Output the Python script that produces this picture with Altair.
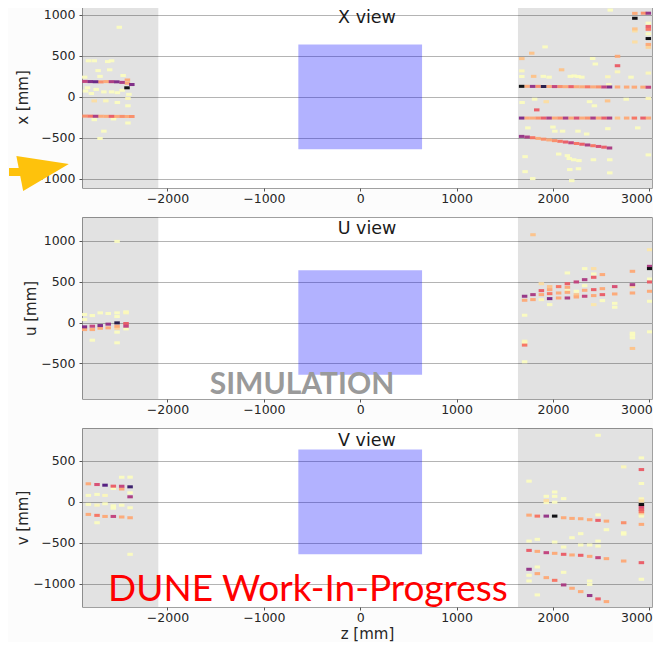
import altair as alt
import pandas as pd

Z_DOMAIN = [-2887, 3028]
Z_TICKS = [-2000, -1000, 0, 1000, 2000, 3000]
GRAY_Z0 = [-2887, 1637]
GRAY_Z1 = [-2095, 3028]
BOX_Z = [-642, 642]
BOX_C = [-640, 640]
HIT_W = 57
HIT_H = 37
ARROW = "#fec20c"

# ---------------- X view hits (z, x, charge) ----------------
X_LEFT_TRACKS = [
    (-2856, 188, 0.55), (-2801, 186, 0.7), (-2746, 184, 0.75), (-2691, 182, 0.35), (-2636, 186, 0.3),
    (-2581, 185, 0.6), (-2526, 183, 0.7), (-2471, 176, 0.6), (-2416, 165, 0.3), (-2370, 150, 0.7),
    (-2416, 205, 0.3), (-2420, 110, 1.0),
    (-2856, -236, 0.35), (-2801, -237, 0.4), (-2746, -238, 0.6), (-2691, -238, 0.3), (-2636, -239, 0.3),
    (-2581, -239, 0.45), (-2526, -240, 0.3), (-2471, -240, 0.35), (-2416, -241, 0.3), (-2370, -241, 0.35),
]
X_LEFT_OTHER = [
    (-2820, 440, 0.1), (-2760, 440, 0.1), (-2620, 430, 0.08), (-2580, 440, 0.1), (-2720, 320, 0.1),
    (-2600, 330, 0.08), (-2500, 850, 0.08), (-2860, 240, 0.1), (-2700, 250, 0.1), (-2460, 260, 0.08),
    (-2850, 70, 0.1), (-2790, 40, 0.1), (-2740, 90, 0.12), (-2660, 60, 0.1), (-2580, 60, 0.1),
    (-2520, 50, 0.1), (-2470, 80, 0.1), (-2400, 30, 0.1), (-2830, 110, 0.08),
    (-2760, -50, 0.2), (-2640, -50, 0.15), (-2520, -70, 0.08), (-2410, -20, 0.15), (-2410, -110, 0.1),
    (-2760, -280, 0.1), (-2560, -270, 0.08), (-2660, -420, 0.1), (-2700, -510, 0.08), (-2410, -320, 0.08),
]
X_RIGHT_TRACKS = [
    (1675, 128, 1.0), (1732, 128, 0.3), (1789, 127, 0.65), (1846, 127, 0.35), (1903, 126, 0.9),
    (1960, 126, 0.3), (2017, 125, 0.55), (2074, 125, 0.35), (2131, 124, 0.3), (2188, 124, 0.45),
    (2245, 123, 0.3), (2302, 122, 0.3), (2359, 122, 0.4), (2416, 121, 0.3), (2473, 121, 0.35),
    (2530, 120, 0.55), (2587, 120, 0.7), (2670, 120, 0.3), (2765, 119, 0.3), (2845, 118, 0.3),
    (2935, 118, 0.3), (2990, 117, 0.55),
    (1675, -260, 0.7), (1732, -260, 0.3), (1789, -260, 0.3), (1846, -260, 0.35), (1903, -260, 0.45),
    (1960, -260, 0.6), (2017, -260, 0.3), (2074, -260, 0.35), (2131, -260, 0.6), (2188, -260, 0.3),
    (2245, -260, 0.5), (2302, -260, 0.3), (2359, -260, 0.35), (2416, -260, 0.6), (2473, -260, 0.3),
    (2530, -260, 0.45), (2587, -260, 0.6), (2670, -260, 0.25), (2765, -260, 0.3), (2845, -260, 0.4),
    (2935, -260, 0.45), (2990, -260, 0.3),
    (1675, -484, 0.65), (1732, -492, 0.6), (1789, -500, 0.4), (1846, -509, 0.3), (1903, -518, 0.35),
    (1960, -527, 0.3), (2017, -536, 0.35), (2074, -544, 0.4), (2131, -553, 0.45), (2188, -562, 0.55),
    (2245, -571, 0.4), (2302, -580, 0.45), (2359, -589, 0.6), (2416, -598, 0.4), (2473, -607, 0.5),
    (2530, -616, 0.45), (2587, -626, 0.6),
]
X_RIGHT_OTHER = [
    (2850, 1020, 0.3), (2850, 960, 1.0), (2850, 830, 0.25), (2850, 805, 0.2), (2850, 670, 0.2),
    (2940, 1022, 0.35), (2990, 1022, 0.65), (2990, 900, 0.12), (2990, 860, 0.45), (2990, 825, 0.4),
    (2990, 712, 1.0), (2990, 640, 0.3), (2990, 605, 0.22), (2990, 770, 0.12),
    (2670, 495, 0.3), (2670, 380, 0.45), (2670, 305, 0.15),
    (1677, 467, 0.25), (1677, 317, 0.15), (1677, 248, 0.12), (1780, 533, 0.25), (1918, 610, 0.1),
    (2090, 330, 0.25), (1800, 250, 0.25), (1900, 250, 0.1), (1960, 240, 0.1), (2180, 250, 0.08),
    (2220, 255, 0.12), (2260, 248, 0.1), (2300, 240, 0.08), (2412, 467, 0.1), (2440, 400, 0.1),
    (2570, 245, 0.15), (2580, 150, 0.1), (2810, 240, 0.1), (2990, 290, 0.15),
    (2567, -50, 0.25), (1680, -70, 0.1), (1810, -30, 0.1), (1832, -160, 0.45), (1930, -60, 0.2),
    (2380, -60, 0.1), (2430, -110, 0.1), (2760, -30, 0.1), (2990, -20, 0.15),
    (1740, -380, 0.1), (2000, -370, 0.1), (2020, -420, 0.12), (2100, -420, 0.1), (2260, -420, 0.1),
    (2350, -455, 0.1), (2880, -380, 0.1), (2570, -390, 0.12),
    (1711, -732, 0.1), (2060, -700, 0.1), (2150, -720, 0.12), (2170, -755, 0.08), (2215, -770, 0.1),
    (2270, -780, 0.08), (2420, -770, 0.1), (2590, -770, 0.1), (2175, -890, 0.1), (2265, -880, 0.1),
    (2590, -930, 0.1), (1711, -915, 0.1), (1790, -1000, 0.1), (2195, -1025, 0.08), (2990, -710, 0.1),
    (2595, 1060, 0.08),
]

# ---------------- U view hits (z, u, charge) ----------------
U_LEFT = [
    (-2862, -53, 0.7), (-2862, -86, 0.3), (-2862, 36, 0.1), (-2862, 98, 0.1),
    (-2780, -45, 0.55), (-2780, -86, 0.3), (-2780, 85, 0.12), (-2780, -216, 0.12),
    (-2698, -37, 0.7), (-2698, -70, 0.3), (-2698, 118, 0.12),
    (-2615, -20, 0.65), (-2615, -65, 0.3), (-2615, 110, 0.12),
    (-2523, -4, 0.9), (-2523, -45, 0.3), (-2523, -70, 0.22), (-2523, 73, 0.1), (-2523, 118, 0.1),
    (-2523, -118, 0.12), (-2523, -248, 0.12), (-2523, 992, 0.06),
    (-2430, -12, 0.45), (-2430, -45, 0.55), (-2430, 118, 0.15), (-2430, 130, 0.1), (-2430, -78, 0.12),
]
U_RIGHT = [
    (1706, 321, 0.65), (1706, 272, 0.3), (1706, 89, 0.12), (1706, -228, 0.15), (1706, -250, 0.12),
    (1706, -276, 0.4), (1706, -480, 0.1),
    (1793, 1073, 0.25), (1793, 341, 0.6), (1793, 280, 0.3),
    (1880, 475, 0.2), (1880, 390, 0.45), (1880, 341, 0.3), (1880, 280, 0.15),
    (1966, 439, 0.25), (1966, 402, 0.3), (1966, 353, 0.4), (1966, 292, 0.7), (1966, 219, 0.12),
    (2059, 439, 0.4), (2059, 361, 0.3), (2059, 300, 0.3),
    (2150, 606, 0.12), (2150, 475, 0.45), (2150, 431, 0.3), (2150, 390, 0.15), (2150, 369, 0.3),
    (2150, 300, 0.6),
    (2243, 496, 0.55), (2243, 382, 0.12), (2243, 340, 0.25), (2243, 312, 0.3),
    (2329, 659, 0.12), (2329, 524, 0.6), (2329, 451, 0.12), (2329, 394, 0.3), (2329, 321, 0.55),
    (2423, 659, 0.2), (2423, 594, 0.12), (2423, 553, 0.45), (2423, 402, 0.45), (2423, 329, 0.3),
    (2423, 219, 0.18),
    (2513, 586, 0.3), (2513, 414, 0.3), (2513, 341, 0.45), (2513, 268, 0.12),
    (2641, 439, 0.5), (2641, 349, 0.3), (2641, 235, 0.12), (2641, 187, 0.1),
    (2825, 626, 0.3), (2825, 463, 0.6), (2825, 440, 0.2), (2825, 361, 0.3), (2825, -130, 0.1),
    (2825, -155, 0.12), (2825, -187, 0.1), (2825, -317, 0.25),
    (3004, 890, 0.18), (3004, 687, 0.6), (3004, 659, 1.0), (3004, 532, 0.12), (3004, 496, 0.45),
    (3004, 382, 0.3), (3004, 260, 0.12), (3004, -114, 0.12),
]

# ---------------- V view hits (z, v, charge) ----------------
V_LEFT = [
    (-2821, 220, 0.3), (-2821, 78, 0.1), (-2821, -32, 0.12), (-2821, -154, 0.3),
    (-2731, 211, 0.5), (-2731, 90, 0.12), (-2731, -41, 0.15), (-2731, -166, 0.4), (-2731, -256, 0.1),
    (-2648, 203, 0.8), (-2648, 78, 0.15), (-2648, -24, 0.1), (-2648, -179, 0.3),
    (-2562, 191, 0.45), (-2562, 163, 0.12), (-2562, -49, 0.1), (-2562, -78, 0.12), (-2562, -179, 0.55),
    (-2475, 301, 0.1), (-2475, 191, 0.55), (-2475, 158, 0.3), (-2475, -41, 0.12), (-2475, -187, 0.3),
    (-2388, 301, 0.12), (-2388, 183, 0.85), (-2388, 110, 0.12), (-2388, 61, 0.6), (-2388, -73, 0.1),
    (-2388, -195, 0.3), (-2388, -642, 0.08),
]
V_RIGHT_TRACKS = [
    (1752, -163, 0.3), (1838, -175, 0.4), (1931, -175, 0.65), (2018, -175, 1.0), (2111, -195, 0.3),
    (2198, -203, 0.3), (2288, -207, 0.3), (2381, -219, 0.3), (2468, -227, 0.45), (2555, -236, 0.3),
    (2734, -256, 0.35),
    (1752, -594, 0.45), (1838, -606, 0.3), (1931, -622, 0.55), (2018, -630, 0.3), (2111, -642, 0.45),
    (2198, -650, 0.3), (2288, -654, 0.45), (2381, -667, 0.3), (2468, -683, 0.55), (2555, -695, 0.3),
    (2734, -724, 0.3), (2918, -744, 0.45),
    (1752, -825, 0.65), (1838, -878, 0.3), (1931, -927, 0.3), (2018, -960, 0.4), (2111, -1016, 0.6),
    (2198, -1057, 0.3), (2288, -1098, 0.3), (2381, -1146, 0.65), (2468, -1187, 0.45), (2555, -1220, 0.3),
]
V_RIGHT_OTHER = [
    (1752, 252, 0.1), (1752, -480, 0.1), (1752, -898, 0.1), (1752, -968, 0.1),
    (1838, -459, 0.1), (1838, -797, 0.12), (1838, -1138, 0.1),
    (1931, 67, 0.1), (1931, 15, 0.2), (1931, -10, 0.1),
    (2018, 120, 0.12), (2018, 67, 0.12), (2018, -5, 0.1), (2018, -492, 0.1),
    (2111, 39, 0.1), (2111, -553, 0.1), (2111, -862, 0.1),
    (2198, -439, 0.1), (2288, -390, 0.1), (2288, -528, 0.1),
    (2381, -528, 0.1), (2381, -968, 0.1), (2381, -1010, 0.08),
    (2468, 813, 0.1), (2468, -480, 0.1), (2468, -541, 0.12), (2468, -160, 0.1),
    (2555, -341, 0.1), (2734, 427, 0.15), (2734, -378, 0.12), (2734, -395, 0.1),
    (2918, 537, 0.1), (2918, 394, 0.45), (2918, 224, 0.1), (2918, 37, 0.15), (2918, 10, 0.2),
    (2918, -33, 1.0), (2918, -60, 0.5), (2918, -93, 0.45), (2918, -122, 0.4), (2918, -145, 0.2),
    (2918, -175, 0.12), (2918, -276, 0.3), (2918, -947, 0.1),
]

PANELS = [
    dict(label="X view", ytitle="x [mm]", hits=X_LEFT_TRACKS + X_LEFT_OTHER + X_RIGHT_TRACKS + X_RIGHT_OTHER,
         domain=[-1115, 1110], ticks=[-1000, -500, 0, 500, 1000], height=182, label_y=2.5),
    dict(label="U view", ytitle="u [mm]", hits=U_LEFT + U_RIGHT,
         domain=[-935, 1290], ticks=[-500, 0, 500, 1000], height=182, label_y=3),
    dict(label="V view", ytitle="v [mm]", hits=V_LEFT + V_RIGHT_TRACKS + V_RIGHT_OTHER,
         domain=[-1286, 902], ticks=[-1000, -500, 0, 500], height=179, label_y=4),
]

WIDTH = 570


def build_panel(p, ztitle):
    h = p["height"]
    xs = alt.Scale(domain=Z_DOMAIN, nice=False, zero=False)
    ys = alt.Scale(domain=p["domain"], nice=False, zero=False)
    xaxis = alt.Axis(values=Z_TICKS, format="d", grid=False, tickSize=3, labelPadding=1,
                     labelFlush=5, labelFlushOffset=3, title=ztitle, titlePadding=2.5)
    yaxis = alt.Axis(values=p["ticks"], format="d", grid=True, gridColor="#b4b4b4", tickSize=3,
                     labelPadding=4, title=p["ytitle"], titlePadding=2)
    X = alt.X("za:Q", scale=xs, axis=xaxis)
    Y = alt.Y("ca:Q", scale=ys, axis=yaxis)

    gray = alt.Chart(pd.DataFrame({"za": GRAY_Z0, "zb": GRAY_Z1})).mark_rect(
        color="#000000", opacity=0.115).encode(x=X, x2="zb:Q", y=alt.value(0), y2=alt.value(h))

    box = alt.Chart(pd.DataFrame({"za": [BOX_Z[0]], "zb": [BOX_Z[1]],
                                  "ca": [BOX_C[0]], "cb": [BOX_C[1]]})).mark_rect(
        color="#0000ff", opacity=0.3).encode(x=X, x2="zb:Q", y=Y, y2="cb:Q")

    df = pd.DataFrame(p["hits"], columns=["z", "c", "q"]).sort_values("q")
    hits = alt.Chart(df).transform_calculate(
        za=f"datum.z - {HIT_W / 2}", zb=f"datum.z + {HIT_W / 2}",
        ca=f"datum.c - {HIT_H / 2}", cb=f"datum.c + {HIT_H / 2}",
    ).mark_rect(clip=True, opacity=0.92).encode(
        x=X, x2="zb:Q", y=Y, y2="cb:Q",
        color=alt.Color("q:Q", scale=alt.Scale(scheme="magma", reverse=True, domain=[0.14, 1], clamp=True),
                        legend=None),
    )

    lab = alt.Chart(pd.DataFrame({"t": [p["label"]]})).mark_text(
        font="DejaVu Sans", fontSize=17.5, color="#1a1a1a", baseline="top", align="center"
    ).encode(x=alt.value(WIDTH / 2), y=alt.value(p["label_y"]), text="t:N")

    return [gray, box, hits, lab], h


layers1, h1 = build_panel(PANELS[0], None)
layers2, h2 = build_panel(PANELS[1], None)
layers3, h3 = build_panel(PANELS[2], "z [mm]")

one = pd.DataFrame({"t": [""]})
shaft = alt.Chart(one).mark_rect(color=ARROW).encode(
    x=alt.value(-73), x2=alt.value(-60), y=alt.value(162), y2=alt.value(170))
head = alt.Chart(one).mark_point(
    shape="M1,0L-1,-0.714L-1,0.714Z", filled=True, size=2500, angle=349, color=ARROW, opacity=1,
    strokeWidth=0).encode(x=alt.value(-37.7), y=alt.value(162.7))

sim = alt.Chart(pd.DataFrame({"t": ["SIMULATION"]})).mark_text(
    font="Lato", fontWeight="bold", fontSize=30, color="#9a9a9a", align="center", baseline="alphabetic"
).encode(x=alt.value(220), y=alt.value(177), text="t:N")

dune = alt.Chart(pd.DataFrame({"t": ["DUNE Work-In-Progress"]})).mark_text(
    font="Lato", fontSize=37, color="#ff0000", align="center", baseline="alphabetic"
).encode(x=alt.value(226), y=alt.value(173), text="t:N")

p1 = alt.layer(*layers1, shaft, head).properties(width=WIDTH, height=h1)
p2 = alt.layer(*layers2, sim).properties(width=WIDTH, height=h2)
p3 = alt.layer(*layers3, dune).properties(width=WIDTH, height=h3)

chart = alt.vconcat(p1, p2, p3, spacing=11).properties(
    padding={"left": 0, "top": -3, "right": 0, "bottom": 0}, background="#fcfcfc"
).configure_view(
    stroke="#a0a0a0", strokeWidth=1, fill="#ffffff"
).configure_axis(
    labelFont="DejaVu Sans", titleFont="DejaVu Sans", labelFontSize=12.5, titleFontSize=15,
    labelColor="#262626", titleColor="#262626", tickColor="#555555", domain=False,
    titleFontWeight="normal"
)

chart.save("out.html", embed_options={"renderer": "svg", "actions": False})
